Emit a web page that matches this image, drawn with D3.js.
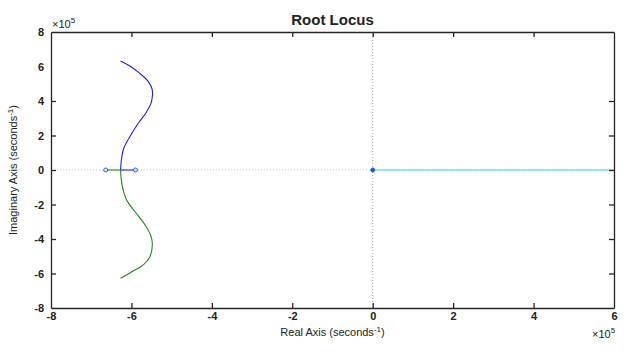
<!DOCTYPE html>
<html>
<head>
<meta charset="utf-8">
<script src="https://cdn.jsdelivr.net/npm/d3@7"></script>
<style>
  body { margin: 0; background: #fff; }
  text { font-family: "Liberation Sans", Arial, sans-serif; fill: #222; }
</style>
</head>
<body>
<script>
const width = 642
const height = 351
const margin = {top: 32, right: 28, bottom: 43, left: 51}

// values in units of 1e5 (seconds^-1)
const xTicks = [-8, -6, -4, -2, 0, 2, 4, 6]
const yTicks = [-8, -6, -4, -2, 0, 2, 4, 6, 8]

// upper branch (blue) : pole -> breakaway -> up
const blueRe = [-5.90, -6.27, -6.25, -6.19, -6.04, -5.83, -5.62, -5.50, -5.48, -5.58, -5.79, -6.04, -6.27]
const blueIm = [0, 0, 0.58, 1.26, 1.93, 2.71, 3.38, 3.96, 4.64, 5.12, 5.60, 6.03, 6.32]

// lower branch (green)
const greenRe = [-6.64, -6.27, -6.24, -6.12, -5.91, -5.66, -5.51, -5.48, -5.54, -5.71, -5.96, -6.27]
const greenIm = [0, 0, -0.77, -1.74, -2.42, -3.19, -3.87, -4.35, -5.03, -5.51, -5.86, -6.28]

// real axis branch (cyan)
const cyanRe = [0, 6]
const cyanIm = [0, 0]

const markRe = [-6.64, -5.90, 0]
const markIm = [0, 0, 0]

const svg = d3.select('body').append('svg')
  .attr('width', width)
  .attr('height', height)

const x = d3.scaleLinear().domain([-8, 6]).range([margin.left, width - margin.right])
const y = d3.scaleLinear().domain([-8, 8]).range([height - margin.bottom, margin.top])

// zero lines
svg.append('line')
  .attr('x1', x(-8)).attr('x2', x(6)).attr('y1', y(0)).attr('y2', y(0))
  .attr('stroke', '#c8c8c8').attr('stroke-dasharray', '1,2')
svg.append('line')
  .attr('x1', x(0)).attr('x2', x(0)).attr('y1', y(-8)).attr('y2', y(8))
  .attr('stroke', '#b0b0b0').attr('stroke-dasharray', '1,2')

const line = d3.line().x(d => x(d[0])).y(d => y(d[1])).curve(d3.curveCatmullRom)
const straight = d3.line().x(d => x(d[0])).y(d => y(d[1]))

const branches = [
  {re: cyanRe, im: cyanIm, color: '#33dede'},
  {re: blueRe, im: blueIm, color: '#1f1fff'},
  {re: greenRe, im: greenIm, color: '#1a8c1a'}
]
branches.forEach(b => {
  const pts = d3.zip(b.re, b.im)
  // first segment along the real axis is straight, the rest is smooth
  svg.append('path')
    .attr('d', straight(pts.slice(0, 2)))
    .attr('fill', 'none').attr('stroke', b.color).attr('stroke-width', 1.1)
  if (pts.length > 2)
    svg.append('path')
      .attr('d', line(pts.slice(1)))
      .attr('fill', 'none').attr('stroke', b.color).attr('stroke-width', 1.1)
})

svg.selectAll('.mark')
  .data(d3.zip(markRe, markIm))
  .enter().append('circle')
  .attr('class', 'mark')
  .attr('cx', d => x(d[0]))
  .attr('cy', d => y(d[1]))
  .attr('r', 2)
  .attr('fill', (d, i) => i == 2 ? '#2050d0' : '#cfe3ff')
  .attr('stroke', '#2a6fd6')
  .attr('stroke-width', 1)

// axes, ticks inside on all four sides
const tl = -5
const fmt = d => String(d)
svg.append('g').attr('transform', `translate(0,${y(-8)})`)
  .call(d3.axisBottom(x).tickValues(xTicks).tickSizeInner(tl).tickSizeOuter(0).tickPadding(4).tickFormat(fmt))
svg.append('g').attr('transform', `translate(0,${y(8)})`)
  .call(d3.axisTop(x).tickValues(xTicks).tickSizeInner(tl).tickSizeOuter(0).tickFormat(''))
svg.append('g').attr('transform', `translate(${x(-8)},0)`)
  .call(d3.axisLeft(y).tickValues(yTicks).tickSizeInner(tl).tickSizeOuter(0).tickPadding(7).tickFormat(fmt))
svg.append('g').attr('transform', `translate(${x(6)},0)`)
  .call(d3.axisRight(y).tickValues(yTicks).tickSizeInner(tl).tickSizeOuter(0).tickFormat(''))

svg.selectAll('.domain').attr('stroke', '#262626').attr('stroke-width', 1.3)
svg.selectAll('.tick line').attr('stroke', '#262626').attr('stroke-width', 1.3)
svg.selectAll('.tick text')
  .style('font-family', '"Liberation Sans", Arial, sans-serif')
  .style('font-size', '11px')
  .style('font-weight', 'bold')
  .attr('fill', '#222')
// hide tick marks at the corners (box already drawn)
svg.selectAll('.tick').filter(d => d == -8 || d == 8 || d == 6).select('line').attr('opacity', 0)

// title
svg.append('text')
  .attr('x', (x(-8) + x(6)) / 2).attr('y', 25)
  .attr('text-anchor', 'middle')
  .style('font-size', '15px').style('font-weight', 'bold')
  .text('Root Locus')

// axis labels
const xl = svg.append('text')
  .attr('x', (x(-8) + x(6)) / 2).attr('y', 336)
  .attr('text-anchor', 'middle')
  .style('font-size', '11px')
xl.append('tspan').text('Real Axis (seconds')
xl.append('tspan').attr('dy', -4).style('font-size', '8px').text('-1')
xl.append('tspan').attr('dy', 4).text(')')

const yl = svg.append('text')
  .attr('transform', `translate(17,${y(0)}) rotate(-90)`)
  .attr('text-anchor', 'middle')
  .style('font-size', '11px')
yl.append('tspan').text('Imaginary Axis (seconds')
yl.append('tspan').attr('dy', -4).style('font-size', '8px').text('-1')
yl.append('tspan').attr('dy', 4).text(')')

// exponent labels
function expo(px, py) {
  const t = svg.append('text').attr('x', px).attr('y', py).style('font-size', '11px')
  t.append('tspan').text('\u00d710')
  t.append('tspan').attr('dy', -5).style('font-size', '8px').text('5')
}
expo(x(-8) + 1, 28)
expo(x(6) - 22, 338)
</script>
</body>
</html>
